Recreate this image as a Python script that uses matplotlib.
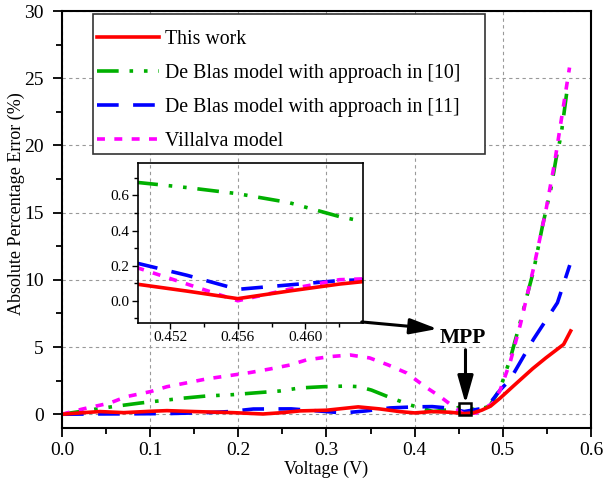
import matplotlib
matplotlib.use("Agg")
import matplotlib.pyplot as plt
from matplotlib.patches import Rectangle
from matplotlib.ticker import MultipleLocator

plt.rcParams['font.family'] = ['Liberation Serif', 'DejaVu Serif']

# Absolute percentage error vs. voltage, one series per model
v_red = [0.0, 0.02, 0.043, 0.07, 0.1, 0.119, 0.15, 0.194, 0.228, 0.25, 0.27, 0.3, 0.336,
         0.36, 0.383, 0.4, 0.42, 0.44, 0.456, 0.466, 0.476, 0.486, 0.497, 0.512, 0.534,
         0.549, 0.569, 0.577]
e_red = [0.0, 0.1, 0.2, 0.12, 0.22, 0.27, 0.2, 0.12, 0.02, 0.12, 0.25, 0.3, 0.55,
         0.4, 0.2, 0.1, 0.2, 0.15, 0.05, 0.1, 0.3, 0.6, 1.2, 2.1, 3.4,
         4.2, 5.2, 6.2]

v_green = [0.0, 0.02, 0.04, 0.058, 0.088, 0.119, 0.138, 0.164, 0.194, 0.217, 0.247, 0.27,
           0.296, 0.323, 0.337, 0.351, 0.37, 0.395, 0.421, 0.44, 0.456, 0.47, 0.485,
           0.497, 0.5085, 0.52, 0.528, 0.535, 0.545, 0.5546, 0.5604, 0.5662, 0.5737]
e_green = [0.0, 0.2, 0.4, 0.57, 0.83, 1.06, 1.2, 1.36, 1.46, 1.58, 1.73, 1.96,
           2.05, 2.1, 2.05, 1.8, 1.3, 0.69, 0.2, 0.35, 0.6, 0.3, 0.6,
           1.9, 4.15, 6.9, 8.95, 10.7, 14.0, 16.8, 19.0, 20.8, 24.5]

v_blue = [0.0, 0.03, 0.07, 0.12, 0.164, 0.19, 0.217, 0.26, 0.29, 0.319, 0.345, 0.372,
          0.4, 0.42, 0.44, 0.456, 0.474, 0.4875, 0.497, 0.5085, 0.535, 0.562, 0.576]
e_blue = [0.0, 0.02, 0.03, 0.05, 0.12, 0.2, 0.39, 0.4, 0.25, 0.1, 0.25, 0.47,
          0.55, 0.57, 0.45, 0.2, 0.4, 1.0, 1.8, 2.6, 5.6, 8.3, 11.1]

v_mag = [0.0, 0.024, 0.054, 0.073, 0.1, 0.119, 0.141, 0.164, 0.187, 0.213, 0.236, 0.259,
         0.277, 0.304, 0.327, 0.349, 0.37, 0.391, 0.412, 0.429, 0.444, 0.456, 0.47,
         0.489, 0.497, 0.5085, 0.52, 0.535, 0.549, 0.559, 0.568, 0.5757]
e_mag = [0.0, 0.4, 0.83, 1.31, 1.68, 2.05, 2.33, 2.63, 2.85, 3.1, 3.37, 3.67,
         4.04, 4.29, 4.41, 4.19, 3.67, 3.07, 2.05, 1.31, 0.57, 0.0, 0.1,
         0.83, 1.8, 3.9, 6.7, 10.9, 15.2, 18.8, 22.6, 25.8]

# Zoomed view around the maximum power point
vz = [0.450, 0.453, 0.456, 0.459, 0.462, 0.4635]
ez_red = [0.095, 0.055, 0.012, 0.055, 0.095, 0.11]
ez_green = [0.675, 0.645, 0.61, 0.56, 0.48, 0.45]
ez_blue = [0.215, 0.145, 0.065, 0.09, 0.115, 0.12]
ez_mag = [0.19, 0.095, 0.0, 0.065, 0.12, 0.125]

mpp_v, mpp_e = 0.457, 0.39

labels = ["This work", "De Blas model with approach in [10]",
          "De Blas model with approach in [11]", "Villalva model"]
colors = ["#ff0000", "#00b000", "#0000ff", "#ff00ff"]
dash_g = (6, 3, 1, 3, 1, 3)
dash_b = (6, 4)
dash_m = (2.2, 2.6)

fig = plt.figure(figsize=(6.03, 4.83), dpi=100)
ax = fig.add_axes([0.1028, 0.1145, 0.8772, 0.8625])

lw = 2.6
ax.plot(v_green, e_green, color=colors[1], lw=lw, dashes=dash_g, label=labels[1])
ax.plot(v_blue, e_blue, color=colors[2], lw=lw, dashes=dash_b, label=labels[2])
ax.plot(v_mag, e_mag, color=colors[3], lw=lw, dashes=dash_m, label=labels[3])
ax.plot(v_red, e_red, color=colors[0], lw=lw, label=labels[0])
ax.plot([mpp_v], [mpp_e], marker='s', ms=8, mfc='none', mec='black', mew=1.8, zorder=5)

ax.set_xlim(0, 0.6)
ax.set_ylim(-1, 30)
ax.xaxis.set_major_locator(MultipleLocator(0.1))
ax.xaxis.set_minor_locator(MultipleLocator(0.05))
ax.yaxis.set_major_locator(MultipleLocator(5))
ax.yaxis.set_minor_locator(MultipleLocator(2.5))
ax.tick_params(which='both', direction='out', labelsize=14, width=1.3)
ax.tick_params(axis='x', pad=3.5)
ax.tick_params(axis='y', pad=6.5)
ax.tick_params(which='major', length=6.5)
ax.tick_params(which='minor', length=4)
ax.grid(True, which='major', color='#999999', linestyle=(0, (3, 3)), lw=0.8)
for s in ax.spines.values():
    s.set_linewidth(1.5)
ax.set_xlabel("Voltage (V)", fontsize=13)
ax.set_ylabel("Absolute Percentage Error (%)", fontsize=13)
ax.xaxis.set_label_coords(0.5, -0.079)
ax.yaxis.set_label_coords(-0.069, 0.539)

# Legend: white box drawn separately, entries placed inside it
box = Rectangle((0.0586, 0.6568), 0.741, 0.336, transform=ax.transAxes,
                facecolor='white', edgecolor='#333333', lw=1.2, zorder=4)
ax.add_patch(box)
handles, labs = ax.get_legend_handles_labels()
order = [3, 0, 1, 2]
leg = ax.legend([handles[i] for i in order], [labs[i] for i in order],
                loc='upper left', bbox_to_anchor=(0.0662, 0.9544), borderaxespad=0,
                fontsize=14.3, frameon=False, handlelength=3.1, handletextpad=0.3,
                labelspacing=0.75, borderpad=0)
leg.set_zorder(5)

# Arrows pointing at the MPP
head = '-|>,head_length=0.6,head_width=0.17'
ax.annotate("", xy=(0.426, 6.35), xytext=(0.34, 6.87),
            arrowprops=dict(arrowstyle=head, color='black', lw=2.2,
                            mutation_scale=28, shrinkA=0, shrinkB=0))
ax.text(0.4546, 5.7, "MPP", ha='center', va='center', fontsize=15.5, fontweight='bold')
ax.annotate("", xy=(0.4577, 0.8), xytext=(0.4577, 4.8),
            arrowprops=dict(arrowstyle=head, color='black', lw=2.2,
                            mutation_scale=28, shrinkA=0, shrinkB=0))

# Inset
axi = fig.add_axes([0.2289, 0.3319, 0.373, 0.3306])
axi.patch.set_alpha(0)
axi.plot(vz, ez_green, color=colors[1], lw=lw, dashes=dash_g)
axi.plot(vz, ez_blue, color=colors[2], lw=lw, dashes=dash_b)
axi.plot(vz, ez_mag, color=colors[3], lw=lw, dashes=dash_m)
axi.plot(vz, ez_red, color=colors[0], lw=lw)
axi.set_xlim(0.4501, 0.4634)
axi.set_ylim(-0.125, 0.785)
axi.xaxis.set_minor_locator(MultipleLocator(0.002))
axi.yaxis.set_major_locator(MultipleLocator(0.2))
axi.yaxis.set_minor_locator(MultipleLocator(0.1))
axi.set_xticks([0.452, 0.456, 0.460])
axi.set_xticklabels(["0.452", "0.456", "0.460"])
axi.tick_params(which='both', direction='out', labelsize=11, width=1, pad=2)
axi.tick_params(which='major', length=4)
axi.tick_params(which='minor', length=3)
for s in axi.spines.values():
    s.set_linewidth(1.2)

fig.savefig("out.png", dpi=100)
